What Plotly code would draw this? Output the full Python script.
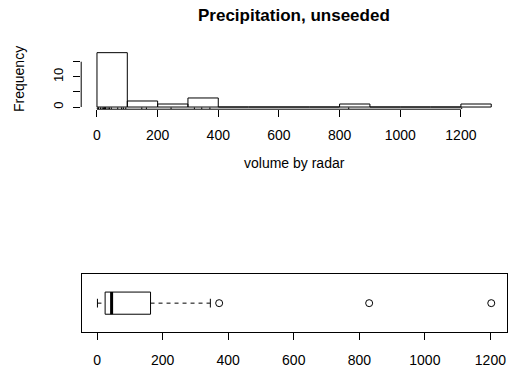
import numpy as np
import plotly.graph_objects as go

# ---- data: unseeded precipitation (volume by radar) ----
rainfall = [1202.6, 830.1, 372.4, 345.5, 321.2, 244.3, 163.0, 147.8, 95.0, 87.0,
            81.2, 68.5, 47.3, 41.1, 36.6, 29.0, 28.6, 26.3, 26.1, 24.4,
            21.7, 17.3, 11.5, 4.9, 4.9, 1.0]
bin_edges = list(range(0, 1400, 100))
x_ticks = [0, 200, 400, 600, 800, 1000, 1200]
y_ticks = [0, 5, 10, 15]
y_ticktext = ["0", "", "10", ""]

W, H = 508, 371
FONT = "Liberation Sans, Arial, Helvetica, sans-serif"

vals = np.array(rainfall, dtype=float)
counts, edges = np.histogram(vals, bins=bin_edges)

# histogram outlines (R draws every bin, even empty ones as flat lines)
hx, hy = [], []
for c, l, r in zip(counts, edges[:-1], edges[1:]):
    hx += [l, l, r, r, l, None]
    hy += [0, c, c, 0, 0, None]

# R-style plot region ranges (4% extension)
def ext(lo, hi):
    d = (hi - lo) * 0.04
    return [lo - d, hi + d]

hist_xr = ext(edges[0], edges[-1])
hist_yr = ext(0, counts.max())

# rug
rug_len = 0.03 * (hist_yr[1] - hist_yr[0])
rx, ry = [], []
for v in vals:
    rx += [v, v, None]
    ry += [hist_yr[0], hist_yr[0] + rug_len, None]

# Tukey five-number summary (R fivenum / boxplot.stats)
s = np.sort(vals)
n = len(s)
n4 = np.floor((n + 3) / 2) / 2
dpos = [1, n4, (n + 1) / 2, n + 1 - n4, n]
five = [0.5 * (s[int(np.floor(d)) - 1] + s[int(np.ceil(d)) - 1]) for d in dpos]
q1, med, q3 = five[1], five[2], five[3]
iqr = q3 - q1
lo_lim, hi_lim = q1 - 1.5 * iqr, q3 + 1.5 * iqr
inside = s[(s >= lo_lim) & (s <= hi_lim)]
wlo, whi = inside.min(), inside.max()
outl = s[(s < lo_lim) | (s > hi_lim)]

box_xr = ext(s.min(), s.max())
bh = 0.19   # half box height
sh = 0.075  # half staple height

fig = go.Figure()
line_k = dict(color="black", width=1)

# histogram
fig.add_trace(go.Scatter(x=hx, y=hy, mode="lines", line=line_k, xaxis="x", yaxis="y",
                         hoverinfo="skip", cliponaxis=False))
fig.add_trace(go.Scatter(x=rx, y=ry, mode="lines", line=line_k, xaxis="x", yaxis="y",
                         hoverinfo="skip", cliponaxis=False))

# boxplot
fig.add_trace(go.Scatter(x=[q1, q3, q3, q1, q1], y=[1 - bh, 1 - bh, 1 + bh, 1 + bh, 1 - bh],
                         mode="lines", line=line_k, xaxis="x2", yaxis="y2", hoverinfo="skip"))
fig.add_trace(go.Scatter(x=[med, med], y=[1 - bh, 1 + bh], mode="lines",
                         line=dict(color="black", width=3), xaxis="x2", yaxis="y2", hoverinfo="skip"))
fig.add_trace(go.Scatter(x=[wlo, q1, None, q3, whi], y=[1, 1, None, 1, 1], mode="lines",
                         line=dict(color="black", width=1, dash="4px,4px"),
                         xaxis="x2", yaxis="y2", hoverinfo="skip"))
fig.add_trace(go.Scatter(x=[wlo, wlo, None, whi, whi], y=[1 - sh, 1 + sh, None, 1 - sh, 1 + sh],
                         mode="lines", line=line_k, xaxis="x2", yaxis="y2", hoverinfo="skip"))
fig.add_trace(go.Scatter(x=list(outl), y=[1] * len(outl), mode="markers",
                         marker=dict(symbol="circle-open", size=7, color="black", line=dict(width=1)),
                         xaxis="x2", yaxis="y2", hoverinfo="skip"))

def px_x(p):
    return p / W

def px_y(p):
    return (H - p) / H

tickfont = dict(family=FONT, size=14, color="black")

fig.update_layout(
    width=W, height=H, margin=dict(l=0, r=0, t=0, b=0),
    paper_bgcolor="white", plot_bgcolor="white", showlegend=False,
    font=dict(family=FONT, color="black"),
    xaxis=dict(domain=[px_x(81.2), px_x(507)], range=hist_xr, anchor="y",
               tickvals=x_ticks, ticks="outside", ticklen=7, tickwidth=1, tickcolor="black",
               showline=False, showgrid=False, zeroline=False, tickfont=tickfont,
               ticklabelstandoff=6),
    yaxis=dict(domain=[px_y(109.2), px_y(50.5)], range=hist_yr, anchor="x",
               tickvals=y_ticks, ticktext=y_ticktext, tickangle=-90,
               ticks="outside", ticklen=7, tickwidth=1, tickcolor="black",
               showline=False, showgrid=False, zeroline=False,
               tickfont=dict(family=FONT, size=13, color="black"), ticklabelstandoff=5),
    xaxis2=dict(domain=[px_x(81.7), px_x(507)], range=box_xr, anchor="y2",
                tickvals=x_ticks, ticks="outside", ticklen=7, tickwidth=1, tickcolor="black",
                showline=True, linecolor="black", linewidth=1, mirror=True,
                showgrid=False, zeroline=False, tickfont=tickfont, ticklabelstandoff=8),
    yaxis2=dict(domain=[px_y(332.3), px_y(274)], range=[0.5, 1.5], anchor="x2",
                showticklabels=False, ticks="", showline=True, linecolor="black", linewidth=1,
                mirror=True, showgrid=False, zeroline=False),
    shapes=[
        dict(type="line", xref="x", yref="y domain", x0=x_ticks[0], x1=x_ticks[-1], y0=0, y1=0,
             line=dict(color="black", width=1)),
        dict(type="line", xref="x domain", yref="y", x0=0, x1=0, y0=y_ticks[0], y1=y_ticks[-1],
             line=dict(color="black", width=1)),
    ],
    annotations=[
        dict(text="<b>Precipitation, unseeded</b>", x=px_x(294), y=px_y(15), xref="paper", yref="paper",
             showarrow=False, xanchor="center", yanchor="middle",
             font=dict(family=FONT, size=17, color="black")),
        dict(text="volume by radar", x=px_x(294), y=px_y(163), xref="paper", yref="paper",
             showarrow=False, xanchor="center", yanchor="middle",
             font=dict(family=FONT, size=14, color="black")),
        dict(text="Frequency", x=px_x(19), y=px_y(79), xref="paper", yref="paper",
             showarrow=False, xanchor="center", yanchor="middle", textangle=-90,
             font=dict(family=FONT, size=14, color="black")),
    ],
)

fig.write_html("out.html")
